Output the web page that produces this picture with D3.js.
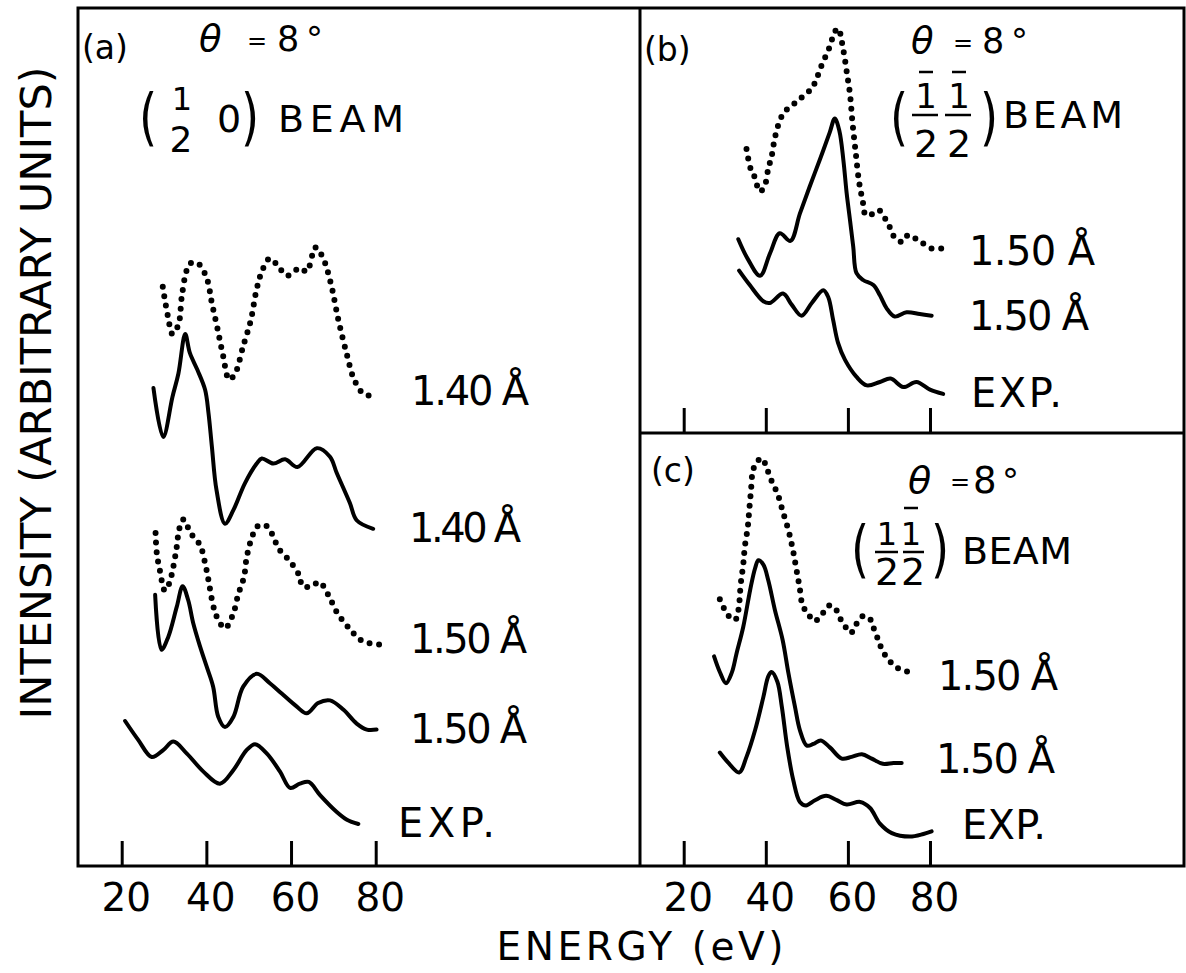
<!DOCTYPE html>
<html>
<head>
<meta charset="utf-8">
<script src="https://cdn.jsdelivr.net/npm/d3@7/dist/d3.min.js"></script>
<style>
  html, body { margin: 0; padding: 0; background: #fff; }
  svg { display: block; }
  text { font-family: "DejaVu Sans", sans-serif; fill: #000; }
</style>
</head>
<body>
<div id="chart"></div>
<script>
// ---------------- DATA ----------------
const tickValues = [20, 40, 60, 80];
const tickLabels = ["20", "40", "60", "80"];

// Panel (a): (1/2 0) beam
const aDot140E = [29.7,30.9,32.0,33.4,34.2,35.4,36.4,38.1,40.1,41.3,42.6,43.9,45.4,46.8,48.7,50.5,51.7,52.9,54.9,56.5,59.1,62.1,63.7,65.8,67.6,69.4,71.2,73.2,74.9,77.2,79.4];
const aDot140I = [67.5,64.1,62.0,63.1,66.4,69.5,70.3,70.2,68.5,65.6,62.7,59.6,56.7,57.4,60.6,63.6,66.8,69.0,70.8,70.2,68.8,69.7,69.3,72.1,70.8,67.9,63.6,59.6,56.7,55.0,54.8];

const aSol140E = [27.5,29.8,32.0,33.4,35.0,36.1,37.9,39.7,40.5,41.3,42.4,44.4,46.4,49.1,51.9,53.1,55.8,58.6,61.5,66.1,69.2,70.8,73.9,75.5,79.4];
const aSol140I = [55.7,50.0,54.7,57.4,62.0,59.8,57.8,55.5,52.8,48.9,43.8,39.9,41.5,44.6,46.9,47.5,46.9,47.4,46.5,48.7,47.7,45.8,42.3,40.3,39.3];

const aDot150E = [28.0,28.3,29.0,30.2,31.2,32.2,33.0,33.6,34.6,36.3,38.5,39.7,40.5,41.5,42.4,44.4,46.4,47.5,48.9,49.5,50.5,52.1,54.0,55.3,57.2,59.8,62.0,62.7,64.9,66.7,68.8,70.8,73.4,76.9,81.4];
const aDot150I = [38.8,36.4,34.5,32.1,32.9,34.9,37.2,39.3,40.4,38.8,37.4,35.3,33.3,30.6,29.1,27.7,29.5,31.6,33.7,35.9,37.9,39.6,39.7,38.9,36.9,35.5,33.8,32.6,32.6,33.1,31.6,29.6,27.9,26.2,25.8];

const aSol150E = [27.9,29.4,31.0,33.0,34.4,35.7,36.9,38.5,40.1,41.6,42.8,44.4,46.4,48.7,51.9,55.0,57.8,61.3,63.7,66.4,69.2,72.4,75.5,77.9,80.2];
const aSol150I = [31.6,25.2,26.7,30.2,32.6,31.0,28.3,25.6,23.2,20.9,17.4,16.2,17.4,20.9,22.4,21.3,20.1,18.6,17.8,19.0,19.3,18.2,16.6,15.9,15.9];

const aExpE = [20.8,23.9,27.1,29.8,32.2,35.4,39.3,43.2,46.4,49.5,51.5,54.3,57.4,59.8,62.1,64.2,66.8,70.8,73.2,75.9];
const aExpI = [16.9,14.7,12.7,13.5,14.5,13.1,11.0,9.6,11.2,13.5,14.2,13.1,11.0,9.1,9.6,9.8,8.3,6.3,5.4,4.9];

// Panel (b): (-1/2 -1/2) beam
const bDot150E = [35.3,36.3,37.2,38.6,39.8,40.6,41.4,42.2,43.6,44.8,46.8,48.3,50.1,51.4,52.4,53.2,54.2,55.0,55.9,56.4,57.6,58.3,58.7,59.1,59.8,60.5,61.1,61.9,62.7,63.6,64.4,66.2,67.6,68.8,69.8,70.6,71.7,73.3,74.7,76.7,78.3,80.5,82.8];
const bDot150I = [33.4,31.1,30.2,28.4,29.2,31.1,32.5,34.7,37.0,37.9,38.7,39.3,40.0,40.7,41.7,42.8,43.9,44.8,45.8,46.8,47.6,46.7,45.5,44.5,42.2,39.9,36.6,33.0,29.6,27.3,25.6,25.8,26.2,25.4,24.7,23.7,22.8,22.5,23.3,22.8,22.3,21.7,21.7];

const bSol150E = [33.3,35.7,38.6,41.0,43.4,46.0,48.3,50.7,53.2,55.6,56.8,57.9,58.9,59.7,60.5,61.3,62.1,63.7,66.2,67.8,69.4,71.4,74.3,77.5,80.4];
const bSol150I = [22.8,20.4,18.5,21.1,23.5,22.6,25.8,29.0,32.2,35.4,37.0,35.6,32.1,28.2,25.1,21.9,18.8,18.0,17.4,16.2,14.7,13.7,14.2,14.0,13.8];

const bExpE = [33.5,36.1,39.4,41.0,44.2,46.3,48.7,51.2,54.0,55.2,56.4,57.6,59.3,62.1,64.6,67.8,70.4,73.5,76.7,80.0,83.2];
const bExpI = [19.1,17.4,15.5,15.3,16.4,15.1,13.8,15.3,16.8,16.0,13.3,10.6,8.6,6.6,5.6,6.0,6.4,5.4,6.0,5.1,4.6];

// Panel (c): (1/2 -1/2) beam
const cDot150E = [28.8,30.9,32.5,33.3,33.9,34.5,34.9,35.6,36.0,36.4,36.8,37.6,39.0,40.2,41.0,42.0,43.0,44.1,45.5,46.6,47.4,48.2,49.1,50.4,51.2,52.4,53.9,55.5,57.1,58.1,59.3,60.7,62.0,63.8,65.6,66.4,67.4,68.2,69.3,70.9,72.7,74.9];
const cDot150I = [30.8,28.9,28.4,29.5,32.6,34.8,36.9,39.1,41.3,43.4,45.5,46.5,47.1,46.0,44.9,43.9,42.8,41.0,38.8,36.5,34.4,32.3,29.9,29.2,28.4,28.4,29.2,30.1,29.6,28.6,27.7,26.9,27.9,28.9,28.4,27.3,26.1,25.1,24.2,23.3,22.7,22.4];

const cSol150E = [27.4,28.8,30.3,31.7,32.9,34.5,36.2,37.4,38.2,39.4,40.6,42.2,44.1,45.5,47.1,48.3,50.0,51.6,53.4,55.6,58.5,60.9,63.4,65.8,68.5,71.1,73.1];
const cSol150I = [24.2,22.4,21.1,22.3,24.6,27.6,31.9,34.4,35.3,34.8,33.0,29.6,26.1,22.3,18.4,15.7,13.9,14.1,14.5,13.7,12.4,12.6,12.9,12.4,11.8,11.9,11.9];

const cExpE = [28.8,30.9,33.5,35.3,37.4,39.4,40.6,41.4,42.8,43.9,45.2,46.7,48.3,49.8,52.0,54.7,57.3,59.7,63.0,65.4,67.8,70.7,75.1,78.4,80.4];
const cExpI = [13.1,11.9,10.8,12.6,15.7,19.5,21.9,22.4,21.3,18.4,13.8,9.9,7.4,7.0,7.6,8.1,7.6,7.1,7.4,6.7,4.9,3.8,3.4,3.7,4.0];

// ---------------- LAYOUT ----------------
const W = 1186, H = 973;
const svg = d3.select("#chart").append("svg").attr("width", W).attr("height", H);
svg.append("rect").attr("width", W).attr("height", H).attr("fill", "#fff");

const xA = d3.scaleLinear().domain([20, 80]).range([121.7, 375.7]);
const xBC = d3.scaleLinear().domain([20, 80]).range([683.7, 930]);
const yA = d3.scaleLinear().domain([0, 100]).range([866, 8]);
const yB = d3.scaleLinear().domain([0, 50]).range([433, 8]);
const yC = d3.scaleLinear().domain([0, 50]).range([866, 433]);

// frames
const frame = svg.append("g").attr("fill", "none").attr("stroke", "#000").attr("stroke-width", 3);
frame.append("path").attr("d", "M78,866 V8 H1184 V866 H78 Z");
frame.append("path").attr("d", "M640,8 V866");
frame.append("path").attr("d", "M640,433 H1184");

// axes
function axis(y, xs, labels) {
  const ax = d3.axisBottom(xs).tickValues(tickValues).tickSize(-25).tickSizeOuter(0).tickPadding(17)
    .tickFormat((d, i) => labels ? tickLabels[i] : "");
  const g = svg.append("g").attr("transform", `translate(0,${y})`).call(ax);
  g.select(".domain").remove();
  g.selectAll(".tick line").attr("stroke", "#000").attr("stroke-width", 3);
  g.selectAll(".tick text").attr("font-size", 39).attr("font-family", "DejaVu Sans").attr("dx", 4).attr("fill", "#000");
}
axis(866, xA, true);
axis(433, xBC, false);
axis(866, xBC, true);

// curves
const series = [
  {xs: xA, ys: yA, E: aDot140E, I: aDot140I, dotted: true},
  {xs: xA, ys: yA, E: aSol140E, I: aSol140I, dotted: false},
  {xs: xA, ys: yA, E: aDot150E, I: aDot150I, dotted: true},
  {xs: xA, ys: yA, E: aSol150E, I: aSol150I, dotted: false},
  {xs: xA, ys: yA, E: aExpE, I: aExpI, dotted: false},
  {xs: xBC, ys: yB, E: bDot150E, I: bDot150I, dotted: true},
  {xs: xBC, ys: yB, E: bSol150E, I: bSol150I, dotted: false},
  {xs: xBC, ys: yB, E: bExpE, I: bExpI, dotted: false},
  {xs: xBC, ys: yC, E: cDot150E, I: cDot150I, dotted: true},
  {xs: xBC, ys: yC, E: cSol150E, I: cSol150I, dotted: false},
  {xs: xBC, ys: yC, E: cExpE, I: cExpI, dotted: false},
];
series.forEach(s => {
  const pts = s.E.map((e, i) => [e, s.I[i]]);
  const line = d3.line().x(d => s.xs(d[0])).y(d => s.ys(d[1])).curve(d3.curveCatmullRom.alpha(0.5));
  const p = svg.append("path").attr("d", line(pts)).attr("fill", "none").attr("stroke", "#000")
    .attr("stroke-linecap", "round").attr("stroke-linejoin", "round");
  if (s.dotted) p.attr("stroke-width", 6).attr("stroke-dasharray", "0 9.5");
  else p.attr("stroke-width", 4);
});

// text helpers
function T(x, y, str, size, opts = {}) {
  const t = svg.append("text").attr("x", x).attr("y", y).attr("font-size", size)
    .attr("text-anchor", opts.anchor || "start").text(str);
  if (opts.italic) t.attr("font-style", "italic");
  if (opts.len) t.attr("textLength", opts.len).attr("lengthAdjust", "spacing");
  return t;
}
function L(x1, y1, x2, y2, w = 2.5) {
  svg.append("line").attr("x1", x1).attr("y1", y1).attr("x2", x2).attr("y2", y2)
    .attr("stroke", "#000").attr("stroke-width", w);
}

// axis titles
T(0, 0, "INTENSITY (ARBITRARY UNITS)", 43, {anchor: "middle", len: 653})
  .attr("transform", "translate(51,393) rotate(-90)");
T(640, 960, "ENERGY  (eV)", 39, {anchor: "middle", len: 287});

// curve labels
const ang = "1.40 \u00C5", ang5 = "1.50 \u00C5";
T(411, 405, ang, 40, {len: 118});
T(409, 542, ang, 40, {len: 112});
T(410, 653, ang5, 40, {len: 117});
T(410, 743, ang5, 40, {len: 117});
T(398, 837, "EXP.", 40, {len: 97});

T(969, 265, ang5, 40, {len: 126});
T(969, 330, ang5, 40, {len: 120});
T(971, 407, "EXP.", 40, {len: 91});

T(938, 690, ang5, 40, {len: 120});
T(936, 773, ang5, 40, {len: 119});
T(962, 839, "EXP.", 40, {len: 84});

// panel (a) header
T(82, 59, "(a)", 33);
T(199, 51, "\u03B8", 37, {italic: true});
T(247, 49, "=", 24);
T(277, 51, "8", 35);
T(306, 51, "\u00B0", 34);
T(139, 138, "(", 62).attr("transform", "translate(139,138) scale(0.75,1) translate(-139,-138)");
T(182, 110, "1", 32, {anchor: "middle"});
T(181, 152, "2", 36, {anchor: "middle"});
T(229, 132, "0", 38, {anchor: "middle"});
T(241, 138, ")", 62).attr("transform", "translate(241,138) scale(0.75,1) translate(-241,-138)");
T(278, 132, "BEAM", 38, {len: 126});

// panel (b) header
T(644, 61, "(b)", 33);
T(911, 53, "\u03B8", 37, {italic: true});
T(953, 51, "=", 24);
T(982, 53, "8", 35);
T(1011, 53, "\u00B0", 34);
T(890, 138, "(", 62).attr("transform", "translate(890,138) scale(0.75,1) translate(-890,-138)");
T(926, 108, "1", 34, {anchor: "middle"});
T(959, 108, "1", 34, {anchor: "middle"});
L(919, 72, 933, 72); L(952, 72, 966, 72);
L(912, 115, 938, 115); L(945, 115, 971, 115);
T(926, 157, "2", 38, {anchor: "middle"});
T(959, 157, "2", 38, {anchor: "middle"});
T(980, 138, ")", 62).attr("transform", "translate(980,138) scale(0.75,1) translate(-980,-138)");
T(1003, 128, "BEAM", 38, {len: 120});

// panel (c) header
T(651, 482, "(c)", 33);
T(908, 493, "\u03B8", 38, {italic: true});
T(950, 490, "=", 24);
T(973, 493, "8", 37);
T(1002, 493, "\u00B0", 34);
T(851, 570, "(", 62).attr("transform", "translate(851,570) scale(0.75,1) translate(-851,-570)");
T(887, 545, "1", 32, {anchor: "middle"});
T(911, 545, "1", 32, {anchor: "middle"});
L(904, 508, 918, 508);
L(875, 552, 898, 552); L(903, 552, 924, 552);
T(887, 585, "2", 38, {anchor: "middle"});
T(913, 585, "2", 38, {anchor: "middle"});
T(931, 570, ")", 62).attr("transform", "translate(931,570) scale(0.75,1) translate(-931,-570)");
T(962, 564, "BEAM", 38, {len: 110});
</script>
</body>
</html>
